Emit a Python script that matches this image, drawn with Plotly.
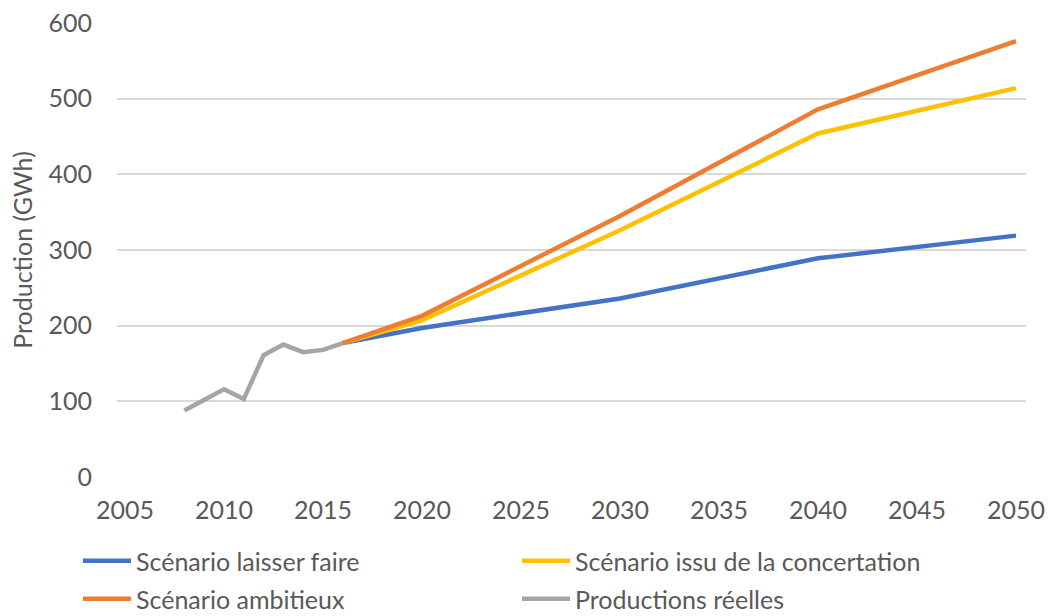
import plotly.graph_objects as go

# Historical production (GWh)
years_hist = [2008, 2009, 2010, 2011, 2012, 2013, 2014, 2015, 2016]
prod_hist = [88, 102, 116, 103, 161, 175, 165, 168, 177]

# Scenario projections (GWh)
years_scen = [2016, 2020, 2030, 2040, 2050]
laisser_faire = [177, 197, 236, 289, 319]
concertation = [177, 207, 326, 454, 514]
ambitieux = [177, 213, 345, 486, 576]

x_ticks = list(range(2005, 2051, 5))
y_ticks = list(range(0, 601, 100))

FONT = "Lato"
TXT = "#595959"
LW = 4.5
W, H = 1048, 616

fig = go.Figure()
fig.add_trace(go.Scatter(x=years_scen, y=laisser_faire, mode="lines",
                         name="Scénario laisser faire", legend="legend",
                         line=dict(color="#4472C4", width=LW)))
fig.add_trace(go.Scatter(x=years_scen, y=concertation, mode="lines",
                         name="Scénario issu de la concertation", legend="legend2",
                         line=dict(color="#FFC000", width=LW)))
fig.add_trace(go.Scatter(x=years_scen, y=ambitieux, mode="lines",
                         name="Scénario ambitieux", legend="legend3",
                         line=dict(color="#ED7D31", width=LW)))
fig.add_trace(go.Scatter(x=years_hist, y=prod_hist, mode="lines",
                         name="Productions réelles", legend="legend4",
                         line=dict(color="#A5A5A5", width=LW)))


def legend_at(px, py):
    # one legend box per entry, placed in page pixels
    return dict(orientation="h", xref="container", yref="container",
                x=px / W, y=1 - py / H, xanchor="left", yanchor="middle",
                itemwidth=48, bgcolor="rgba(0,0,0,0)", borderwidth=0,
                font=dict(family=FONT, size=25, color=TXT))


fig.update_layout(
    width=W, height=H,
    margin=dict(l=117, r=22, t=23, b=139, autoexpand=False),
    paper_bgcolor="white", plot_bgcolor="white",
    font=dict(family=FONT, size=25, color=TXT),
    showlegend=True,
    legend=legend_at(78, 561),
    legend2=legend_at(517, 561),
    legend3=legend_at(78, 599),
    legend4=legend_at(517, 599),
)
fig.update_xaxes(range=[2004.596, 2050.505], tickvals=x_ticks,
                 ticktext=[str(v) for v in x_ticks],
                 showgrid=False, zeroline=False, showline=False,
                 ticklabelstandoff=16,
                 tickfont=dict(family=FONT, size=25, color=TXT))
fig.update_yaxes(range=[0, 600], tickvals=y_ticks,
                 showgrid=True, gridcolor="#D9D9D9", gridwidth=1.5,
                 zeroline=False, showline=False,
                 ticklabelstandoff=24,
                 tickfont=dict(family=FONT, size=25, color=TXT),
                 title=dict(text="Production (GWh)", standoff=8,
                            font=dict(family=FONT, size=25, color=TXT)))

fig.write_html("out.html")
